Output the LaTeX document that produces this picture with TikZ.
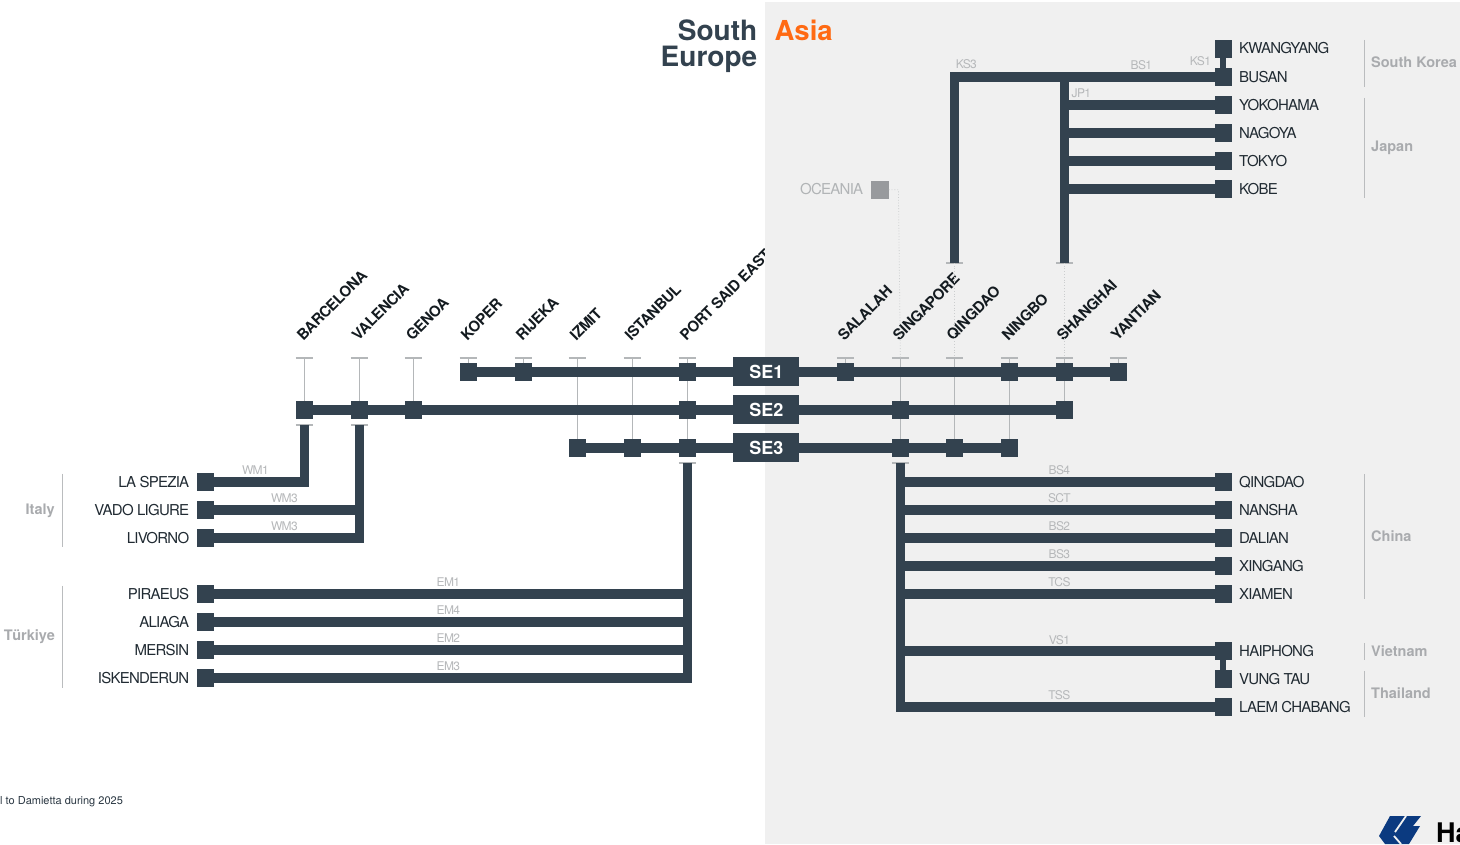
\documentclass[tikz,border=0pt]{standalone}
\usepackage{fontspec}
\setmainfont{TeX Gyre Heros}
\newfontfamily\tightf[LetterSpace=-5]{TeX Gyre Heros}
\newfontfamily\tiltf[LetterSpace=-2.5]{TeX Gyre Heros}
\definecolor{ink}{HTML}{33424F}
\definecolor{tick}{HTML}{B4B7B9}
\definecolor{muted}{HTML}{A9ABAE}
\definecolor{panel}{HTML}{F0F0F0}
\definecolor{orangeA}{HTML}{FF6A13}
\definecolor{logoblue}{HTML}{0B3A80}
\tikzset{
 x=1pt,y=-1pt,
 stn/.style={fill=ink,draw=none,minimum size=17.5pt,inner sep=0pt,outer sep=0pt},
 se/.style={fill=ink,draw=none,minimum width=66pt,minimum height=29pt,inner sep=0pt,outer sep=0pt,text=white,font=\fontsize{18}{18}\selectfont\bfseries},
 trunk/.style={draw=ink,line width=9.4pt,line cap=butt,line join=miter},
 thin link/.style={draw=ink,line width=6pt},
 gline/.style={draw=tick,line width=1.6pt},
 tk/.style={draw=tick,line width=1.6pt},
 dots/.style={draw=tick!70,line width=.8pt,dotted},
 port/.style={font=\tightf\fontsize{15}{15}\selectfont,text=ink!65!black,inner sep=0pt},
 rport/.style={port,anchor=west},
 lport/.style={port,anchor=east},
 tilt/.style={font=\tiltf\fontsize{15}{15}\selectfont\bfseries,text=ink!40!black,rotate=45,anchor=south west,inner sep=0pt},
 code/.style={font=\tightf\fontsize{12}{12}\selectfont,text=muted!85,inner sep=0pt},
 grp/.style={font=\fontsize{14.5}{14.5}\selectfont\bfseries,text=muted,inner sep=0pt},
 bar/.style={draw=muted!80,line width=1.2pt},
}
\begin{document}
\begin{tikzpicture}
\useasboundingbox (0,0) rectangle (1460,844);
\fill[white] (0,0) rectangle (1460,844);
\begin{scope}[shift={(0.4,0.8)}]
% tilted labels first, panel clips PORT SAID EAST
\node[tilt] (tBar) at (303,341) {BARCELONA};
\node[tilt] (tVal) at (358,341) {VALENCIA};
\node[tilt] (tGen) at (412,341) {GENOA};
\node[tilt] (tKop) at (467,341) {KOPER};
\node[tilt] (tRij) at (522,341) {RIJEKA};
\node[tilt] (tIzm) at (576,341) {IZMIT};
\node[tilt] (tIst) at (631,341) {ISTANBUL};
\node[tilt] (tPor) at (686,341) {PORT SAID EAST*};
\end{scope}
\fill[panel] (765,2) rectangle (1460,844);
\begin{scope}[shift={(0.4,0.8)}]
\node[tilt] (tSal) at (844,341) {SALALAH};
\node[tilt] (tSin) at (899,341) {SINGAPORE};
\node[tilt] (tQin) at (953,341) {QINGDAO};
\node[tilt] (tNin) at (1008,341) {NINGBO};
\node[tilt] (tSha) at (1063,341) {SHANGHAI};
\node[tilt] (tYan) at (1117,341) {YANTIAN};
% title
\node[anchor=east,inner sep=0pt,text=ink,font=\fontsize{28}{28}\selectfont\bfseries] (tS) at (757,29.5) {South};
\node[anchor=east,inner sep=0pt,text=ink,font=\fontsize{28}{28}\selectfont\bfseries] (tE) at (757,59) {Europe};
\node[anchor=west,inner sep=0pt,text=orangeA,font=\fontsize{27.5}{27.5}\selectfont\bfseries] (tA) at (774,29.5) {Asia};
% coordinates
\foreach \n/\x/\y in {pBar/304/357,pVal/359/357,pGen/413/357,pKop/468/357,pRij/523/357,pIzm/577/357,pIst/632/357,pPor/687/357,pSal/845/357,pSin/900/357,pQin/954/357,pNin/1009/357,pSha/1064/357,pYan/1118/357,
 bBar/304/424,bVal/359/424,bPor/687/462,bSin/900/462,uQin/954/262,uSha/1064/262,oBend/898/189}
  \coordinate (\n) at (\x,\y);
% station nodes
\node[se] (SE1) at (766,371) {SE1};
\node[se] (SE2) at (766,409) {SE2};
\node[se] (SE3) at (766,447) {SE3};
\foreach \n/\x/\y in {a1/468/371,a2/523/371,a3/687/371,a4/845/371,a5/1009/371,a6/1064/371,a7/1118/371,
 b1/304/409,b2/359/409,b3/413/409,b4/687/409,b5/900/409,b6/1064/409,
 c1/577/447,c2/632/447,c3/687/447,c4/900/447,c5/954/447,c6/1009/447,
 Kw/1223/48,Bu/1223/76,Yo/1223/104,Na/1223/132,To/1223/160,Ko/1223/188,
 Qi/1223/481,Ns/1223/509,Da/1223/537,Xg/1223/565,Xm/1223/593,Ha/1223/650,Vu/1223/678,La/1223/706,
 Sp/205/481,Va/205/509,Li/205/537,Pi/205/593,Al/205/621,Me/205/649,Is/205/677}
  \coordinate (\n) at (\x,\y);
% gray dropper lines
\foreach \s/\e in {pBar/b1,pVal/b2,pGen/b3,pKop/a1,pRij/a2,pIzm/c1,pIst/c2,pPor/c3,pSal/a4,pSin/c4,pQin/c5,pNin/c6,pSha/b6,pYan/a7}
  \draw[gline] (\s) -- (\e);
\foreach \p in {pBar,pVal,pGen,pKop,pRij,pIzm,pIst,pPor,pSal,pSin,pQin,pNin,pSha,pYan,bBar,bVal,bPor,bSin,uQin,uSha}
  \draw[tk] ([xshift=-8.5pt]\p) -- ([xshift=8.5pt]\p);
% dotted
\node[fill=muted!90!black,minimum size=17.5pt,inner sep=0pt] (Oc) at (879.5,189) {};
\draw[dots] (Oc.east) -- (oBend) -- (pSin);
\draw[dots] (uQin) -- (pQin);
\draw[dots] (uSha) -- (pSha);
% trunks
\draw[trunk] (a1) -- (SE1) -- (a7);
\draw[trunk] (b1) -- (SE2) -- (b6);
\draw[trunk] (c1) -- (SE3) -- (c6);
\draw[trunk] (bBar) |- (Sp);
\draw[trunk] (bVal) |- (Li);
\draw[trunk] (359,509) -- (Va);
\draw[trunk] (bPor) |- (Is);
\foreach \y/\e in {593/Pi,621/Al,649/Me} \draw[trunk] (687,\y) -- (\e);
\draw[trunk] (bSin) |- (La);
\foreach \y/\e in {481/Qi,509/Ns,537/Da,565/Xg,593/Xm,650/Ha} \draw[trunk] (900,\y) -- (\e);
\draw[trunk] (uQin) |- (Bu);
\draw[trunk] (uSha) -- (1064,76);
\foreach \y/\e in {104/Yo,132/Na,160/To,188/Ko} \draw[trunk] (1064,\y) -- (\e);
\draw[thin link] (Kw) -- (Bu);
\draw[thin link] (Ha) -- (Vu);
% squares
\foreach \c in {a1,a2,a3,a4,a5,a6,a7,b1,b2,b3,b4,b5,b6,c1,c2,c3,c4,c5,c6,Kw,Bu,Yo,Na,To,Ko,Qi,Ns,Da,Xg,Xm,Ha,Vu,La,Sp,Va,Li,Pi,Al,Me,Is}
  \node[stn] (s\c) at (\c) {};
% port labels
\foreach \n/\y/\t in {lKw/47/KWANGYANG,lBu/76.5/BUSAN,lYo/104.5/YOKOHAMA,lNa/132.5/NAGOYA,lTo/160.5/TOKYO,lKo/188.5/KOBE,lQi/481.5/QINGDAO,lNs/509.5/NANSHA,lDa/537.5/DALIAN,lXg/565.5/XINGANG,lXm/593.5/XIAMEN,lHa/650.5/HAIPHONG,lVu/678.5/VUNG TAU,lLa/706.5/LAEM CHABANG}
  \node[rport] (\n) at (1238.6,\y) {\t};
\foreach \n/\y/\t in {lSp/481.5/LA SPEZIA,lVa/509.5/VADO LIGURE,lLi/537.5/LIVORNO,lPi/593.5/PIRAEUS,lAl/621.5/ALIAGA,lMe/649.5/MERSIN,lIs/677.5/ISKENDERUN}
  \node[lport] (\n) at (189,\y) {\t};
\node[anchor=east,inner sep=0pt,text=muted!90,font=\tightf\fontsize{15}{15}\selectfont] (lOc) at (863,188.5) {OCEANIA};
% service codes
\foreach \n/\x/\y/\t in {c1/255/469/WM1,c2/284/497/WM3,c3/284/525/WM3,c4/448/581/EM1,c5/448/609/EM4,c6/448/637/EM2,c7/448/665/EM3,c8/1059/469/BS4,c9/1059/497/SCT,c10/1059/525/BS2,c11/1059/553/BS3,c12/1059/581/TCS,c13/1059/639/VS1,c14/1059/694/TSS,c15/966/63/KS3,c16/1141/64/BS1,c17/1200/60/KS1,c18/1081/92/JP1}
  \node[code] (code\n) at (\x,\y) {\t};
% groups
\draw[bar] (62,473) -- (62,546);
\draw[bar] (62,585) -- (62,687);
\draw[bar] (1364,39) -- (1364,86);
\draw[bar] (1364,97) -- (1364,197);
\draw[bar] (1364,473) -- (1364,598);
\draw[bar] (1364,642) -- (1364,659);
\draw[bar] (1364,670) -- (1364,716);
\node[grp,anchor=east] (gIt) at (54.6,510) {Italy};
\node[grp,anchor=east] (gTu) at (54.6,636) {Türkiye};
\node[grp,anchor=west] (gSk) at (1370.6,61.5) {South Korea};
\node[grp,anchor=west] (gJp) at (1370.6,147) {Japan};
\node[grp,anchor=west] (gCn) at (1370.6,535) {China};
\node[grp,anchor=west] (gVn) at (1370.6,650.5) {Vietnam};
\node[grp,anchor=west] (gTh) at (1370.6,692.5) {Thailand};
% footnote
\node[anchor=west,inner sep=0pt,text=ink!85!black,font=\fontsize{11}{11}\selectfont] (fn) at (-0.4,800.5) {l to Damietta during 2025};
\end{scope}
% logo
\begin{scope}
\clip (0,0) rectangle (1460,844);
\fill[logoblue] (1390,816) -- (1421,816) -- (1413,826) -- (1420,826) -- (1409,844) -- (1385,844) -- (1379,836) -- cycle;
\draw[panel,line width=1.8pt] (1406,816) -- (1395,832);
\draw[panel,line width=1.8pt] (1394,836) -- (1401,844);
\node[anchor=west,inner sep=0pt,text=black,font=\fontsize{27}{27}\selectfont\bfseries] (logoT) at (1436,833) {Ha};
\end{scope}
\end{tikzpicture}
\end{document}
